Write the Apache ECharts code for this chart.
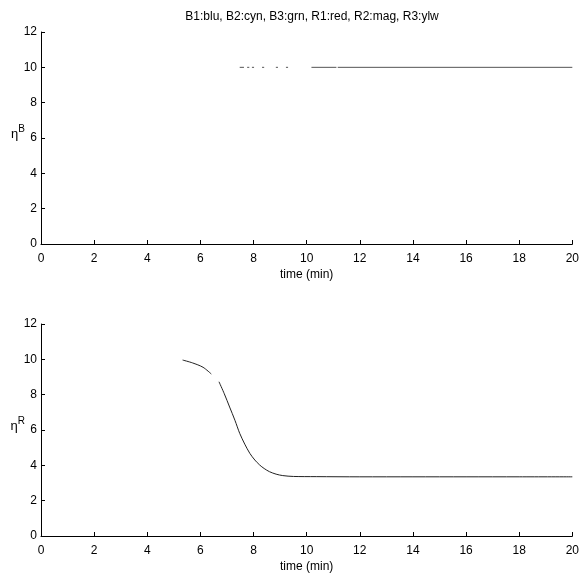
<!DOCTYPE html>
<html>
<head>
<meta charset="utf-8">
<script src="https://cdn.jsdelivr.net/npm/echarts@6/dist/echarts.min.js"></script>
<style>
html,body{margin:0;padding:0;background:#fff;}
#chart{width:582px;height:575px;}
</style>
</head>
<body>
<div id="chart"></div>
<script>
// Title / labels
var titleText = 'B1:blu, B2:cyn, B3:grn, R1:red, R2:mag, R3:ylw';
var xTicks = [0, 2, 4, 6, 8, 10, 12, 14, 16, 18, 20];
var yTicks = [0, 2, 4, 6, 8, 10, 12];

// Top panel (eta^B): time and value; null marks a gap in the trace
var bTime = [7.48, 7.64, 7.66, 7.76, 7.84, 7.86, 7.94, 8.02, 8.04, 8.32, 8.40, 8.42, 8.84, 8.92, 8.94, 9.22, 9.30, 9.32, 10.18, 11.12, 11.14, 11.17, 20];
var bEta  = [10, 10, null, 10, 10, null, 10, 10, null, 10, 10, null, 10, 10, null, 10, 10, null, 10, 10, null, 10, 10];

// Bottom panel (eta^R)
var rTime = [5.33, 5.7, 6.1, 6.41, 6.55, 6.70, 6.9, 7.1, 7.3, 7.48, 7.67, 7.86, 8.05, 8.23, 8.4, 8.6, 8.85, 9.1, 9.5, 10.36, 12, 14, 16, 18, 20];
var rEta  = [9.96, 9.8, 9.55, 9.17, null, 8.73, 8.05, 7.3, 6.55, 5.81, 5.2, 4.68, 4.3, 4.02, 3.82, 3.64, 3.5, 3.42, 3.37, 3.36, 3.35, 3.35, 3.35, 3.35, 3.35];

function pairs(xs, ys) {
  var out = [];
  for (var i = 0; i < xs.length; i++) out.push([xs[i], ys[i] === null ? '-' : ys[i]]);
  return out;
}

var FONT = 'Liberation Sans, Arial, sans-serif';
var axisCommon = {
  type: 'value',
  min: 0,
  interval: 2,
  axisLine: {show: true, lineStyle: {color: '#000', width: 1}},
  axisTick: {show: true, inside: true, length: 4, lineStyle: {color: '#000'}},
  splitLine: {show: false},
  axisLabel: {color: '#000', fontFamily: FONT, fontSize: 12}
};

function xAx(gi) {
  return Object.assign({}, axisCommon, {
    gridIndex: gi, max: 20,
    name: 'time (min)', nameLocation: 'middle', nameGap: 25, nameMoveOverlap: false,
    nameTextStyle: {color: '#000', fontFamily: FONT, fontSize: 12},
    axisLabel: {color: '#000', fontFamily: FONT, fontSize: 12, margin: 9}
  });
}
function yAx(gi, sup) {
  return Object.assign({}, axisCommon, {
    gridIndex: gi, max: 12,
    name: '{a|η}{b|' + sup + '}', nameLocation: 'middle', nameGap: 16, nameRotate: 0, nameMoveOverlap: false,
    nameTextStyle: {
      padding: [0, 0, 14, 0],
      rich: {
        a: {fontFamily: FONT, fontSize: 13, color: '#000', lineHeight: 16, padding: [6, 0, 0, 0]},
        b: {fontFamily: FONT, fontSize: 10, color: '#000', lineHeight: 16, padding: [0, 0, 4, 0]}
      }
    },
    axisLabel: {color: '#000', fontFamily: FONT, fontSize: 12, margin: 4}
  });
}

var chart = echarts.init(document.getElementById('chart'), null, {renderer: 'canvas'});
chart.setOption({
  animation: false,
  backgroundColor: '#fff',
  title: {
    text: titleText, left: 307, top: 6, textAlign: 'center',
    textStyle: {fontFamily: FONT, fontSize: 12, fontWeight: 'normal', color: '#000'}
  },
  grid: [
    {left: 41, right: 9, top: 32, height: 212},
    {left: 41, right: 9, top: 324, height: 212}
  ],
  xAxis: [xAx(0), xAx(1)],
  yAxis: [yAx(0, 'B'), yAx(1, 'R')],
  series: [
    {
      type: 'line', xAxisIndex: 0, yAxisIndex: 0, showSymbol: false, connectNulls: false,
      lineStyle: {color: '#555', width: 1}, data: pairs(bTime, bEta)
    },
    {
      type: 'line', xAxisIndex: 1, yAxisIndex: 1, showSymbol: false, connectNulls: false, smooth: 0.3,
      lineStyle: {color: '#222', width: 1}, data: pairs(rTime, rEta)
    }
  ]
});
</script>
</body>
</html>
